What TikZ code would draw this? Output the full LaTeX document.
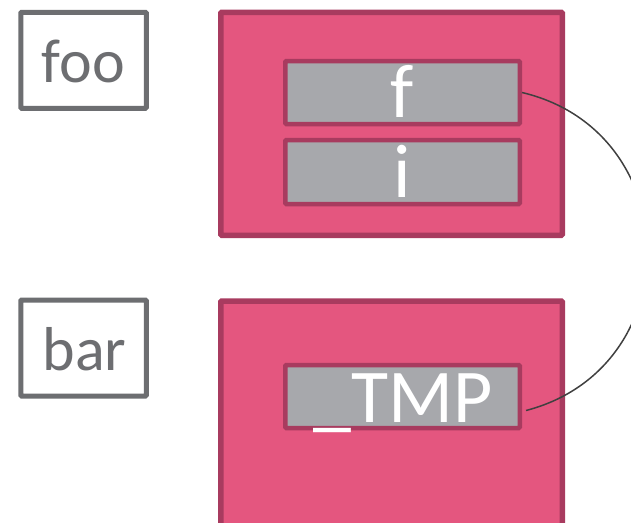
\documentclass[tikz,border=0pt]{standalone}
\usepackage{fontspec}
\setmainfont{Carlito}
\definecolor{pinkfill}{HTML}{E4567F}
\definecolor{pinkborder}{HTML}{A83B5F}
\definecolor{cellgray}{HTML}{A7A8AC}
\definecolor{namegray}{HTML}{6D6E71}
\definecolor{linkgray}{HTML}{404040}
\begin{document}
\begin{tikzpicture}[x=1pt,y=-1pt,
  namebox/.style={draw=namegray, line width=5pt, fill=white, minimum width=125.5pt, inner sep=0pt, rounded corners=1pt},
  namelabel/.style={anchor=base, text=namegray, font=\fontsize{62}{62}\selectfont, inner sep=0pt},
  frame/.style={draw=pinkborder, fill=pinkfill, line width=5.5pt, minimum width=341.5pt, inner sep=0pt, rounded corners=1pt},
  cell/.style={draw=pinkborder, fill=cellgray, line width=4.5pt, minimum width=234.5pt, inner sep=0pt, rounded corners=1pt},
  celllabel/.style={anchor=base, text=white, font=\fontsize{76}{76}\selectfont, inner sep=0pt},
  link/.style={draw=linkgray, line width=1.5pt}
]
\useasboundingbox (0,0) rectangle (631,522);
\clip (0,0) rectangle (631,522);
% name boxes
\node[namebox, minimum height=96pt] (foo) at (83.5,60.25) {};
\node[namelabel] (footext) at (83.5,82) {foo};
\node[namebox, minimum height=96pt] (bar) at (83.5,348) {};
\node[namelabel] (bartext) at (84.5,370) {bar};
% frames
\node[frame, minimum height=223pt] (fooframe) at (391.5,123.75) {};
\node[frame, minimum height=240pt] (barframe) at (391.5,421) {};
% cells
\node[cell, minimum height=63pt] (f) at (402.5,92.5) {};
\node[celllabel] (ftext) at (402.5,117) {f};
\node[cell, minimum height=64pt] (i) at (402.5,172) {};
\node[celllabel] (itext) at (402.5,197) {i};
\node[cell, minimum height=63pt] (tmp) at (402.5,396.5) {};
\node[celllabel] (tmptext) at (403.5,422) {\_TMP};
% link
\coordinate (tmpend) at ([xshift=4pt,yshift=-14pt]tmp.east);
\draw[link] (f.east) .. controls (687,131.5) and (690,367.7) .. (tmpend);
\end{tikzpicture}
\end{document}
